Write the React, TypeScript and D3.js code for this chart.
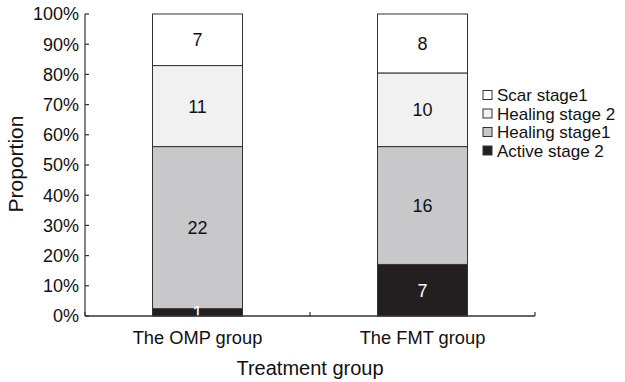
import React from "react";
import * as d3 from "d3";

const categories = ["The OMP group", "The FMT group"];
const seriesNames = ["Active stage 2", "Healing stage1", "Healing stage 2", "Scar stage1"];
const activeStage2 = [1, 7];
const healingStage1 = [22, 16];
const healingStage2 = [11, 10];
const scarStage1 = [7, 8];
const yTicks = [0, 0.1, 0.2, 0.3, 0.4, 0.5, 0.6, 0.7, 0.8, 0.9, 1];

const fills = ["#231f20", "#c8c8ca", "#f1f1f2", "#ffffff"];
const labelColors = ["#ffffff", "#111", "#111", "#111"];
const FONT = "'Liberation Sans', Arial, Helvetica, sans-serif";

export default function App() {
  const W = 625, H = 382;
  const left = 85, right = 535, top = 14, bottom = 316;
  const series = [activeStage2, healingStage1, healingStage2, scarStage1];
  const x = d3.scaleBand<string>().domain(categories).range([left, right]).paddingInner(0).paddingOuter(0);
  const y = d3.scaleLinear().domain([0, 1]).range([bottom, top]);
  const bw = x.bandwidth();
  const barW = bw * 0.4;

  const rows = categories.map((c, i) => {
    const o: any = { cat: c };
    seriesNames.forEach((s, k) => (o[s] = series[k][i]));
    return o;
  });
  const totals = categories.map((_, i) => d3.sum(series, (s) => s[i]));
  const stacked = d3.stack<any>().keys(seriesNames)(rows);

  const boundaries = [left, ...categories.map((c) => (x(c) as number) + bw)];

  return (
    <svg width={W} height={H} style={{ position: "absolute", left: 0, top: 0, background: "#fff" }} fontFamily={FONT}>
      {stacked.map((layer, k) =>
        layer.map((d, i) => {
          const t = totals[i];
          const y0 = y(d[0] / t);
          const y1 = y(d[1] / t);
          const cx = (x(categories[i]) as number) + bw / 2;
          return (
            <rect key={`${k}-${i}`} x={cx - barW / 2} y={y1} width={barW} height={y0 - y1} fill={fills[k]} stroke="#333" strokeWidth={1} />
          );
        })
      )}
      {stacked.map((layer, k) =>
        layer.map((d, i) => {
          const t = totals[i];
          const cy = (y(d[0] / t) + y(d[1] / t)) / 2;
          const cx = (x(categories[i]) as number) + bw / 2;
          return (
            <text key={`t${k}-${i}`} x={cx} y={cy} dy="0.36em" textAnchor="middle" fontSize={18} fill={labelColors[k]}>
              {series[k][i]}
            </text>
          );
        })
      )}
      {/* y axis */}
      <line x1={left} x2={left} y1={top} y2={bottom} stroke="#333" strokeWidth={1.2} />
      {yTicks.map((t) => (
        <g key={t}>
          <line x1={left} x2={left + 4} y1={y(t)} y2={y(t)} stroke="#333" strokeWidth={1.2} />
          <text x={left - 6} y={y(t)} dy="0.36em" textAnchor="end" fontSize={18} fill="#111">
            {d3.format(".0%")(t)}
          </text>
        </g>
      ))}
      {/* x axis */}
      <line x1={left} x2={right} y1={bottom} y2={bottom} stroke="#333" strokeWidth={1.5} />
      {boundaries.map((b, i) => (
        <line key={i} x1={b} x2={b} y1={bottom} y2={bottom - 4} stroke="#333" strokeWidth={1.2} />
      ))}
      {categories.map((c) => (
        <text key={c} x={(x(c) as number) + bw / 2} y={344} textAnchor="middle" fontSize={18.3} fill="#111">
          {c}
        </text>
      ))}
      <text x={(left + right) / 2} y={375} textAnchor="middle" fontSize={20} fill="#111">
        Treatment group
      </text>
      <text transform={`translate(23,164) rotate(-90)`} textAnchor="middle" fontSize={21} fill="#111">
        Proportion
      </text>
      {/* legend */}
      {seriesNames
        .slice()
        .reverse()
        .map((s, j) => {
          const k = seriesNames.length - 1 - j;
          const cy = 95 + j * 18.5;
          return (
            <g key={s}>
              <rect x={483} y={cy - 4.5} width={9} height={9} fill={fills[k]} stroke="#333" strokeWidth={1} />
              <text x={497} y={cy} dy="0.36em" fontSize={17} fill="#111">
                {s}
              </text>
            </g>
          );
        })}
    </svg>
  );
}
